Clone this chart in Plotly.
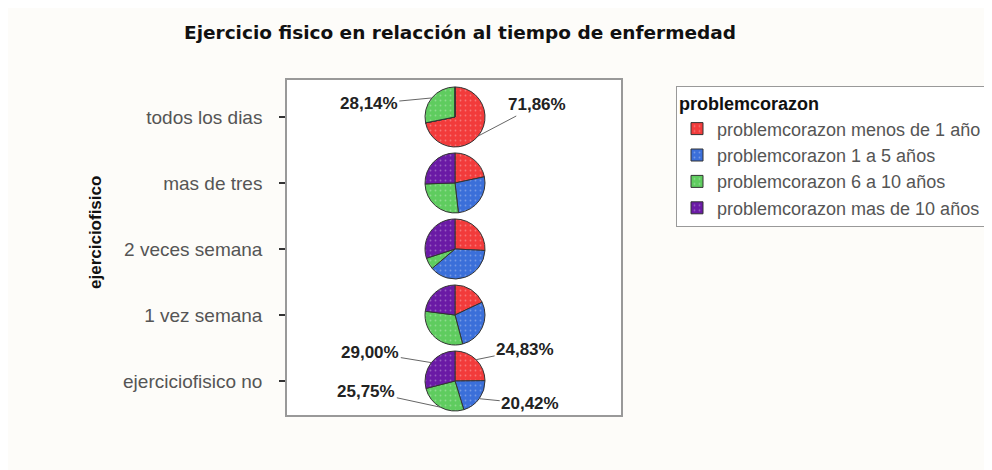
import math
import plotly.graph_objects as go

# ---- data ----
categories = ["todos los dias", "mas de tres", "2 veces semana", "1 vez semana", "ejerciciofisico no"]
series_names = [
    "problemcorazon menos de 1 año",
    "problemcorazon 1 a 5 años",
    "problemcorazon 6 a 10 años",
    "problemcorazon mas de 10 años",
]
menos_1 = [71.86, 21.7, 25.8, 18.0, 24.83]
de_1_a_5 = [0.0, 26.5, 38.0, 27.9, 20.42]
de_6_a_10 = [28.14, 26.3, 6.2, 31.1, 25.75]
mas_10 = [0.0, 25.5, 30.0, 23.0, 29.00]
# labelled slices: (category index, series index)
labelled = [(0, 2), (0, 0), (4, 3), (4, 0), (4, 2), (4, 1)]

# ---- style ----
colors = ["#f23b3b", "#3b6fd9", "#5fcc5f", "#6a1aa5"]
label_offsets = [(-63, 6), (59, -31), (-61, -10), (49, -10), (-74, -16), (51, 5)]
W, H = 984, 462
L, R, T, B = 279, 371, 72, 55
pw, ph = W - L - R, H - T - B
pie_d = 60
ymin, ymax = -0.515, 4.56
xc = 0.503

series = [menos_1, de_1_a_5, de_6_a_10, mas_10]
order_bottom_up = categories[::-1]

fig = go.Figure()
fig.add_trace(go.Scatter(x=[xc] * len(categories), y=categories, mode="markers",
                         marker=dict(opacity=0), showlegend=False, hoverinfo="skip"))

def ypaper(cat):
    idx = order_bottom_up.index(cat)
    return (idx - ymin) / (ymax - ymin)

hx = pie_d / 2 / pw
hy = pie_d / 2 / ph
for i, cat in enumerate(categories):
    vals = [s[i] for s in series]
    yp = ypaper(cat)
    fig.add_trace(go.Pie(
        labels=series_names, values=vals, sort=False, direction="clockwise", rotation=0,
        domain=dict(x=[xc - hx, xc + hx], y=[yp - hy, yp + hy]),
        marker=dict(colors=colors, line=dict(color="#333333", width=1),
                    pattern=dict(shape=".", bgcolor=colors, fgcolor="#ffffff",
                                 fgopacity=0.3, size=5, solidity=0.1)),
        textinfo="none", hoverinfo="label+percent", showlegend=(i == 4),
        legendgroup="p",
    ))

annotations = []
for (ci, si), (ax, ay) in zip(labelled, label_offsets):
    vals = [s[ci] for s in series]
    tot = sum(vals)
    start = sum(vals[:si]) / tot * 360
    mid = start + vals[si] / tot * 360 / 2
    th = math.radians(mid)
    r = pie_d / 2
    idx = order_bottom_up.index(categories[ci])
    tx = xc + r * math.sin(th) / pw
    ty = idx + r * math.cos(th) / ph * (ymax - ymin)
    txt = f"{vals[si]:.2f}".replace(".", ",") + "%"
    annotations.append(dict(x=tx, y=ty, xref="x", yref="y", ax=ax, ay=ay, text=f"<b>{txt}</b>",
                            showarrow=True, arrowhead=0, arrowwidth=1, arrowcolor="#666666",
                            font=dict(family="Liberation Sans", size=17, color="#222222")))

# y-axis title as a rotated annotation
annotations.append(dict(text="<b>ejerciciofisico</b>", textangle=-90, showarrow=False,
                        xref="paper", yref="paper", x=(87 - L) / pw, y=(H - B - 225) / ph,
                        xanchor="center", yanchor="middle",
                        font=dict(family="Liberation Sans", size=17, color="#111111")))

fig.update_layout(
    width=W, height=H,
    margin=dict(l=L, r=R, t=T, b=B, autoexpand=False),
    paper_bgcolor="#fdfcf9", plot_bgcolor="#ffffff",
    title=dict(text="<b>Ejercicio fisico en relacción al tiempo de enfermedad</b>",
               x=(452 - L) / pw, xref="paper", xanchor="center",
               y=1 - 25 / H, yanchor="middle",
               font=dict(family="DejaVu Sans", size=18.5, color="#111111")),
    xaxis=dict(range=[0, 1], showticklabels=False, ticks="", showgrid=False, zeroline=False,
               showline=True, mirror=True, linecolor="#999999", linewidth=1.5),
    yaxis=dict(type="category", categoryorder="array", categoryarray=order_bottom_up,
               range=[ymin, ymax], showgrid=False, zeroline=False,
               showline=True, mirror=True, linecolor="#999999", linewidth=1.5,
               ticks="outside", ticklen=6, tickwidth=2, tickcolor="#333333",
               ticklabelstandoff=13,
               tickfont=dict(family="Liberation Sans", size=19, color="#555555")),
    legend=dict(x=(668 - L) / pw, xanchor="left", y=(H - B - 78) / ph, yanchor="top",
                bgcolor="#ffffff", bordercolor="#999999", borderwidth=1,
                itemwidth=30, tracegroupgap=0,
                title=dict(text="<b>problemcorazon</b>", side="top",
                           font=dict(family="Liberation Sans", size=18, color="#111111")),
                font=dict(family="Liberation Sans", size=18, color="#555555")),
    annotations=annotations,
    showlegend=True,
)

fig.write_html("out.html")
